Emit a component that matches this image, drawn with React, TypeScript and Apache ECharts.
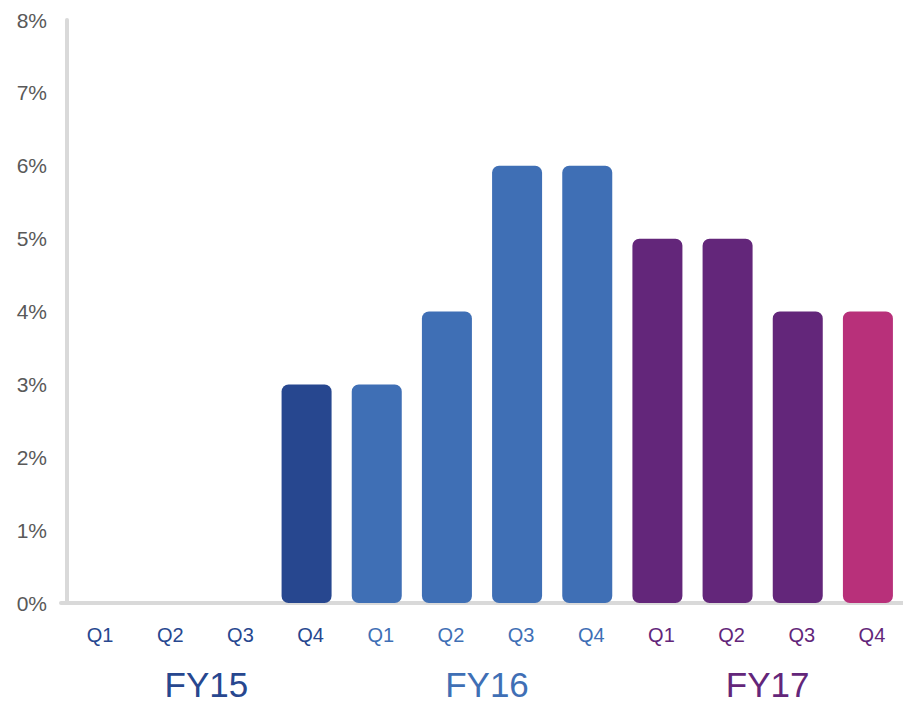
import React, { useEffect, useRef } from "react";
import * as echarts from "echarts";

// Quarterly growth rate by fiscal year
const quarters = ["Q1", "Q2", "Q3", "Q4", "Q1", "Q2", "Q3", "Q4", "Q1", "Q2", "Q3", "Q4"];
const fiscalYears = ["FY15", "FY16", "FY17"];
const growthPct = [0, 0, 0, 3, 3, 4, 6, 6, 5, 5, 4, 4];
const yTicks = { min: 0, max: 8, interval: 1 };

// Styling
const yearColors = ["#27478F", "#3F6FB5", "#63267A"];
const barColors = [
  "#27478F", "#27478F", "#27478F", "#27478F",
  "#3F6FB5", "#3F6FB5", "#3F6FB5", "#3F6FB5",
  "#63267A", "#63267A", "#63267A", "#B8307A",
];
const axisGrey = "#D9D9D9";
const font = "Arial, 'Liberation Sans', sans-serif";

export default function App() {
  const ref = useRef<HTMLDivElement>(null);

  useEffect(() => {
    if (!ref.current) return;
    const chart = echarts.init(ref.current, null, { renderer: "svg" });
    chart.setOption({
      animation: false,
      grid: { left: 61, right: 0, top: 20, bottom: 101, containLabel: false },
      xAxis: [
        {
          type: "category",
          data: quarters,
          offset: 2.5,
          axisLine: { show: true, lineStyle: { color: axisGrey, width: 4 } },
          axisTick: { show: false },
          axisLabel: {
            margin: 19,
            fontSize: 20,
            fontFamily: font,
            padding: [0, 0, 0, 8],
            color: (_v: string, i: number) => yearColors[Math.floor(i / 4)],
          },
        },
        {
          type: "category",
          data: fiscalYears,
          position: "bottom",
          offset: 56,
          axisLine: { show: false },
          axisTick: { show: false },
          axisLabel: {
            margin: 8,
            fontSize: 35,
            fontFamily: font,
            padding: [0, 0, 0, 10],
            color: (_v: string, i: number) => yearColors[i],
          },
        },
      ],
      yAxis: {
        type: "value",
        min: yTicks.min,
        max: yTicks.max,
        interval: yTicks.interval,
        offset: -6,
        axisLine: { show: true, lineStyle: { color: axisGrey, width: 4 } },
        axisTick: { show: false },
        splitLine: { show: false },
        axisLabel: {
          formatter: "{value}%",
          margin: 20,
          fontSize: 21,
          fontFamily: font,
          color: "#595959",
        },
      },
      series: [
        {
          type: "bar",
          xAxisIndex: 0,
          barWidth: 50,
          z: 3,
          data: growthPct.map((v, i) => ({
            value: v,
            itemStyle: { color: barColors[i], borderRadius: 7 },
          })),
        },
      ],
    });
    return () => chart.dispose();
  }, []);

  return (
    <div
      ref={ref}
      style={{ position: "absolute", left: 0, top: 0, width: 903, height: 704, background: "#fff" }}
    />
  );
}
